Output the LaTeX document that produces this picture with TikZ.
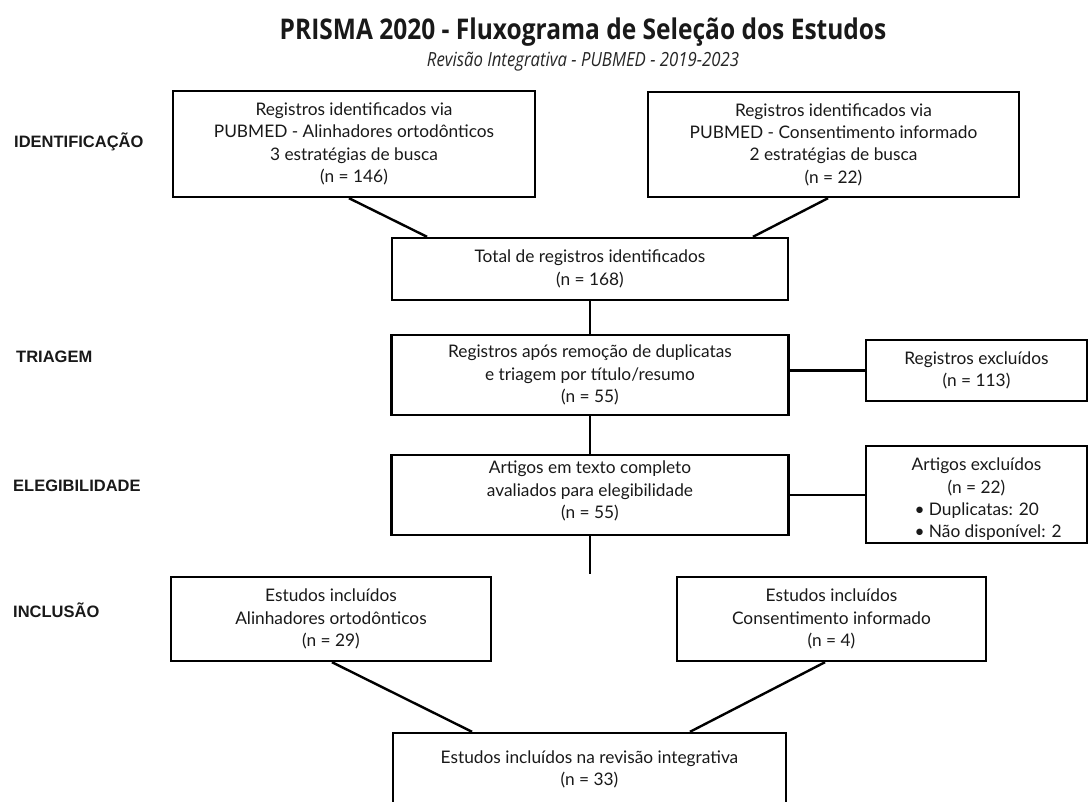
\documentclass[tikz,border=0pt]{standalone}
\usepackage{fontspec}
\setmainfont{Lato}
\newfontfamily\titlefont[FakeStretch=0.86]{Open Sans}
\newfontfamily\labfont{Liberation Sans}
\begin{document}
\begin{tikzpicture}[x=1pt,y=-1pt,
  box/.style={draw=black, line width=2.4pt, align=center, inner sep=0pt,
    font=\fontsize{17.3}{22.3}\selectfont, text=black!90},
  frame/.style={draw=black, line width=2.4pt, inner sep=0pt},
  txt/.style={align=center, inner sep=0pt, font=\fontsize{17.3}{22.3}\selectfont, text=black!90},
  conn/.style={line width=2.4pt},
  lab/.style={font=\labfont\bfseries\fontsize{16.5}{20}\selectfont, anchor=west, inner sep=0pt, text=black!90}]
\useasboundingbox (0,0) rectangle (1090,802);
\clip (0,0) rectangle (1090,802);
\fill[white] (0,0) rectangle (1090,802);

% titles
\node[font=\titlefont\bfseries\fontsize{28.5}{32}\selectfont, text=black!90] (title) at (583,32) {PRISMA 2020 - Fluxograma de Seleção dos Estudos};
\node[font=\titlefont\itshape\fontsize{19.5}{22}\selectfont, text=black!85] (subtitle) at (583,62) {Revisão Integrativa - PUBMED - 2019-2023};

% phase labels
\node[lab] (l1) at (14,142) {IDENTIFICAÇÃO};
\node[lab] (l2) at (16,357) {TRIAGEM};
\node[lab] (l3) at (13,486) {ELEGIBILIDADE};
\node[lab] (l4) at (13,610) {INCLUSÃO};

% boxes
\node[box, minimum width=362pt, minimum height=106pt] (b1) at (354,144)
  {Registros identificados via\\PUBMED - Alinhadores ortodônticos\\3 estratégias de busca\\(n = 146)};
\node[box, minimum width=371pt, minimum height=105pt] (b2) at (833.5,144.5)
  {Registros identificados via\\PUBMED - Consentimento informado\\2 estratégias de busca\\(n = 22)};
\node[box, minimum width=396pt, minimum height=62pt] (tot) at (590,269)
  {Total de registros identificados\\(n = 168)};
\node[box, minimum width=397pt, minimum height=80pt] (tri) at (590,375)
  {Registros após remoção de duplicatas\\e triagem por título/resumo\\(n = 55)};
\node[box, minimum width=221pt, minimum height=61pt] (rex) at (976.5,370.5)
  {Registros excluídos\\(n = 113)};
\node[frame, minimum width=397pt, minimum height=80pt] (eli) at (590,495) {};
\node[txt] (elitext) at ([yshift=4pt]eli.center)
  {Artigos em texto completo\\avaliados para elegibilidade\\(n = 55)};
\node[frame, minimum width=221pt, minimum height=97pt] (aex) at (976.5,494.5) {};
\node[txt] (aextext) at ([yshift=-5pt]aex.center)
  {Artigos excluídos\\(n = 22)\\\makebox[124pt][l]{\textbullet\ Duplicatas: 20}\\\makebox[124pt][l]{\textbullet\ Não disponível: 2}};
\node[box, minimum width=320pt, minimum height=84pt] (inL) at (331,619)
  {Estudos incluídos\\Alinhadores ortodônticos\\(n = 29)};
\node[box, minimum width=309pt, minimum height=84pt] (inR) at (831.5,619)
  {Estudos incluídos\\Consentimento informado\\(n = 4)};
\node[box, minimum width=393pt, minimum height=73pt] (fin) at (589.5,769.5)
  {Estudos incluídos na revisão integrativa\\(n = 33)};

% connectors
\coordinate (eliend) at (590,574);
\draw[conn] ([xshift=-5pt]b1.south) -- ([xshift=-163pt]tot.north);
\draw[conn] ([xshift=-5.5pt]b2.south) -- ([xshift=163pt]tot.north);
\draw[conn] (tot.south) -- (tri.north);
\draw[conn] (tri.east |- rex.west) -- (rex.west);
\draw[conn] (tri.south) -- (eli.north);
\draw[conn] (eli.east) -- (aex.west |- eli.east);
\draw[conn] (eli.south) -- (eliend);
\draw[conn] ([xshift=1pt]inL.south) -- ([xshift=-117.5pt]fin.north);
\draw[conn] ([xshift=-6.5pt]inR.south) -- ([xshift=100.5pt]fin.north);
\end{tikzpicture}
\end{document}
